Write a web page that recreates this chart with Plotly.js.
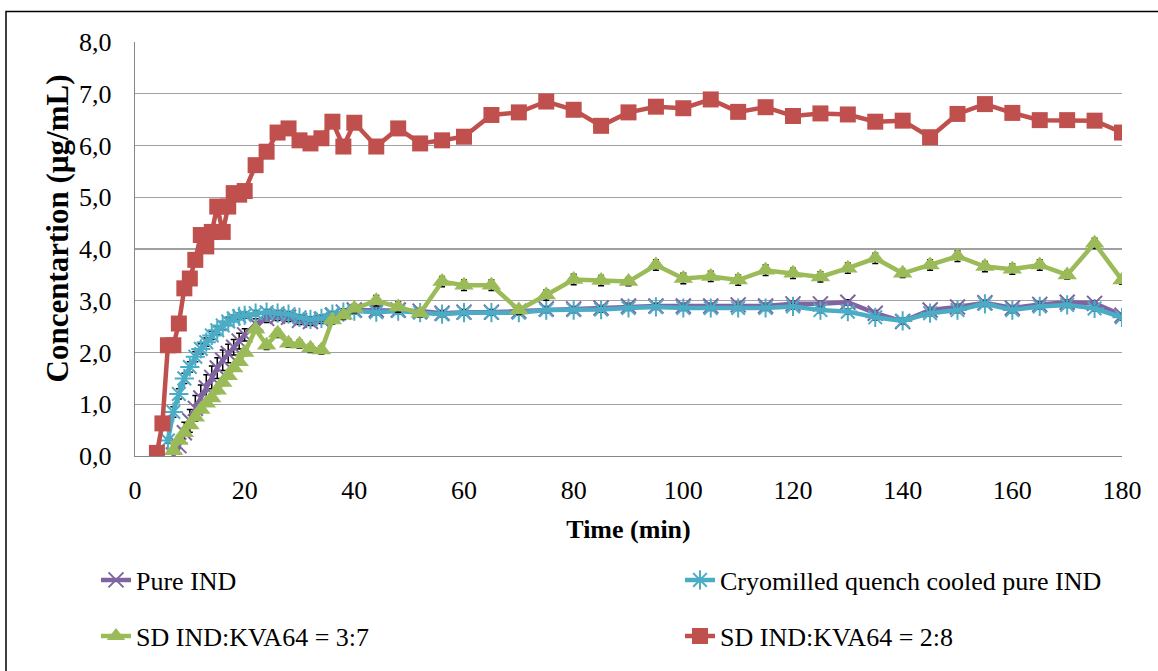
<!DOCTYPE html>
<html>
<head>
<meta charset="utf-8">
<script src="https://cdn.plot.ly/plotly-3.0.1.min.js"></script>
<style>html,body{margin:0;padding:0;background:#fff;}#chart{width:1158px;height:671px;}</style>
</head>
<body>
<div id="chart"></div>
<script>
// Time points (min)
const times = [4,5,6,7,8,9,10,11,12,13,14,15,16,17,18,19,20,
  22,24,26,28,30,32,34,36,38,40,
  44,48,52,56,60,
  65,70,75,80,85,90,95,100,105,110,115,120,125,130,135,140,145,150,155,160,165,170,175,180];

const seriesNames = ["Pure IND", "Cryomilled quench cooled pure IND", "SD IND:KVA64 = 3:7", "SD IND:KVA64 = 2:8"];
const xTitle = "Time (min)";
const yTitle = "Concentartion (µg/mL)";

const pureIND = [null,null,null,0.02,0.20,0.45,0.68,0.92,1.12,1.32,1.52,1.70,1.85,1.98,2.10,2.22,2.34,
  2.55,2.66,2.70,2.68,2.62,2.60,2.64,2.72,2.78,2.82,
  2.82,2.82,2.80,2.76,2.78,
  2.78,2.80,2.84,2.84,2.86,2.90,2.90,2.90,2.90,2.92,2.90,2.94,2.94,2.97,2.76,2.60,2.82,2.88,2.96,2.86,2.93,2.97,2.95,2.72];
const pureINDErr = [null,null,null,0.05,0.15,0.20,0.22,0.25,0.25,0.25,0.22,0.20,0.20,0.18,0.15,0.15,0.12,
  0.10,0.08,0.08,0.08,0.08,0.08,0.08,0.06,0.06,0.05,
  0.05,0.05,0.05,0.05,0.05,
  0.05,0.05,0.05,0.05,0.05,0.05,0.05,0.05,0.05,0.05,0.05,0.05,0.05,0.05,0.05,0.05,0.05,0.05,0.05,0.05,0.05,0.05,0.05,0.05];

const cryoIND = [null,null,0.30,0.85,1.20,1.50,1.72,1.92,2.07,2.20,2.33,2.43,2.52,2.60,2.66,2.70,2.72,
  2.76,2.78,2.76,2.74,2.68,2.64,2.66,2.74,2.78,2.80,
  2.78,2.80,2.77,2.74,2.77,
  2.77,2.77,2.82,2.82,2.83,2.86,2.88,2.86,2.86,2.86,2.86,2.89,2.82,2.79,2.68,2.61,2.76,2.82,2.94,2.82,2.89,2.92,2.85,2.68];
const cryoINDErr = [null,null,0.05,0.10,0.10,0.10,0.10,0.10,0.10,0.08,0.08,0.08,0.08,0.08,0.06,0.06,0.06,
  0.05,0.05,0.05,0.05,0.05,0.05,0.05,0.05,0.05,0.05,
  0.05,0.05,0.05,0.05,0.05,
  0.05,0.05,0.05,0.05,0.05,0.05,0.05,0.05,0.05,0.05,0.05,0.05,0.05,0.05,0.05,0.05,0.05,0.05,0.05,0.05,0.05,0.05,0.05,0.05];

const sd37 = [null,null,null,0.10,0.30,0.45,0.60,0.75,0.90,1.02,1.12,1.27,1.42,1.55,1.70,1.82,2.00,
  2.45,2.14,2.37,2.18,2.16,2.08,2.05,2.63,2.72,2.85,
  3.00,2.88,2.76,3.37,3.30,
  3.30,2.82,3.11,3.41,3.39,3.37,3.69,3.43,3.47,3.40,3.59,3.53,3.46,3.63,3.82,3.53,3.69,3.86,3.66,3.61,3.69,3.50,4.11,3.40];
const sd37Err = [null,null,null,0.03,0.05,0.05,0.06,0.06,0.06,0.06,0.06,0.06,0.06,0.06,0.06,0.06,0.06,
  0.08,0.08,0.08,0.08,0.08,0.08,0.08,0.08,0.08,0.08,
  0.10,0.10,0.08,0.10,0.10,
  0.10,0.08,0.10,0.10,0.10,0.08,0.10,0.10,0.10,0.10,0.10,0.10,0.10,0.10,0.10,0.08,0.10,0.10,0.10,0.10,0.10,0.08,0.10,0.08];

const sd28 = [0.06,0.63,2.14,2.14,2.56,3.24,3.43,3.79,4.27,4.05,4.33,4.82,4.33,4.82,5.08,5.05,5.12,
  5.62,5.88,6.25,6.33,6.10,6.04,6.14,6.46,5.98,6.44,
  5.98,6.33,6.04,6.10,6.17,
  6.59,6.64,6.85,6.69,6.38,6.64,6.75,6.72,6.89,6.65,6.74,6.57,6.62,6.60,6.46,6.48,6.16,6.61,6.80,6.63,6.49,6.49,6.48,6.25];
const sd28Err = [0.05,0.05,0.05,0.05,0.05,0.05,0.05,0.05,0.05,0.05,0.05,0.05,0.05,0.05,0.05,0.05,0.05,
  0.05,0.05,0.05,0.05,0.05,0.05,0.05,0.05,0.05,0.05,
  0.05,0.05,0.05,0.05,0.05,
  0.05,0.05,0.05,0.05,0.05,0.05,0.05,0.05,0.05,0.05,0.05,0.05,0.05,0.05,0.05,0.05,0.05,0.05,0.05,0.05,0.05,0.05,0.05,0.05];

const xTickVals = [0,20,40,60,80,100,120,140,160,180];
const yTickVals = [0,1,2,3,4,5,6,7,8];

const FONT = "'Liberation Serif', 'Times New Roman', serif";
const errStyle = (arr) => ({type:'data', array: arr, visible:true, color:'#000', thickness:1.5, width:3});

const traces = [
  {x: times, y: pureIND, name: seriesNames[0], mode:'lines+markers', legend:'legend',
   line:{color:'#8064A2', width:4.5},
   marker:{symbol:'x-thin-open', size:15, color:'#8064A2', line:{color:'#8064A2', width:2}},
   error_y: errStyle(pureINDErr)},
  {x: times, y: cryoIND, name: seriesNames[1], mode:'lines+markers', legend:'legend2',
   line:{color:'#4BACC6', width:4.5},
   marker:{symbol:'asterisk-open', size:16, color:'#4BACC6', line:{color:'#4BACC6', width:2}},
   error_y: errStyle(cryoINDErr)},
  {x: times, y: sd37, name: seriesNames[2], mode:'lines+markers', legend:'legend3',
   line:{color:'#9BBB59', width:4.5},
   marker:{symbol:'triangle-up', size:17, color:'#9BBB59'},
   error_y: errStyle(sd37Err)},
  {x: times, y: sd28, name: seriesNames[3], mode:'lines+markers', legend:'legend4',
   line:{color:'#C0504D', width:4.5},
   marker:{symbol:'square', size:16, color:'#C0504D'},
   error_y: errStyle(sd28Err)}
];

const L = 135, R = 1122, T = 42, B = 456;
const px2x = (p) => (p - L) / (R - L);
const px2y = (p) => (B - p) / (B - T);

const legendAt = (px, py) => ({
  orientation:'h', xref:'container', yref:'container', x: px/1158, y: 1 - py/671,
  xanchor:'left', yanchor:'middle',
  font:{family:FONT, size:26, color:'#000'}, bgcolor:'rgba(0,0,0,0)'
});

const layout = {
  width: 1158, height: 671,
  paper_bgcolor:'#fff', plot_bgcolor:'#fff',
  separators: ', ',
  font: {family: FONT, size: 26, color:'#000'},
  margin: {l: L, r: 1158 - R, t: T, b: 671 - B},
  showlegend: true,
  xaxis: {
    range:[0,180], tickvals: xTickVals, showgrid:false, zeroline:false,
    showline:true, linecolor:'#868686', linewidth:1.3, ticks:'',
    ticklabelstandoff: 10,
    tickfont:{family:FONT, size:26, color:'#000'},
    title:{text:'<b>' + xTitle + '</b>', font:{family:FONT, size:26, color:'#000'}, standoff: 16}
  },
  yaxis: {
    range:[0,8], tickvals: yTickVals, tickformat:'.1f', showgrid:true, gridcolor:'#A0A0A0', gridwidth:1.3,
    zeroline:false, showline:true, linecolor:'#868686', linewidth:1.3, ticks:'',
    ticklabelstandoff: 17,
    tickfont:{family:FONT, size:26, color:'#000'}
  },
  annotations: [{
    text:'<b>' + yTitle + '</b>', xref:'paper', yref:'paper',
    x: px2x(57), y: px2y(228.5), xanchor:'center', yanchor:'middle',
    textangle:-90, showarrow:false, font:{family:FONT, size:31, color:'#000'}
  }],
  legend: legendAt(96, 580),
  legend2: legendAt(680, 580),
  legend3: legendAt(96, 636),
  legend4: legendAt(680, 636),
  shapes: [{
    type:'path', xref:'paper', yref:'paper',
    path: 'M ' + px2x(6) + ',' + px2y(700) + ' L ' + px2x(6) + ',' + px2y(11.5) + ' L ' + px2x(1170) + ',' + px2y(11.5),
    line:{color:'#000', width:1.5}
  }]
};

Plotly.newPlot('chart', traces, layout, {displayModeBar:false, staticPlot:true});
</script>
</body>
</html>
